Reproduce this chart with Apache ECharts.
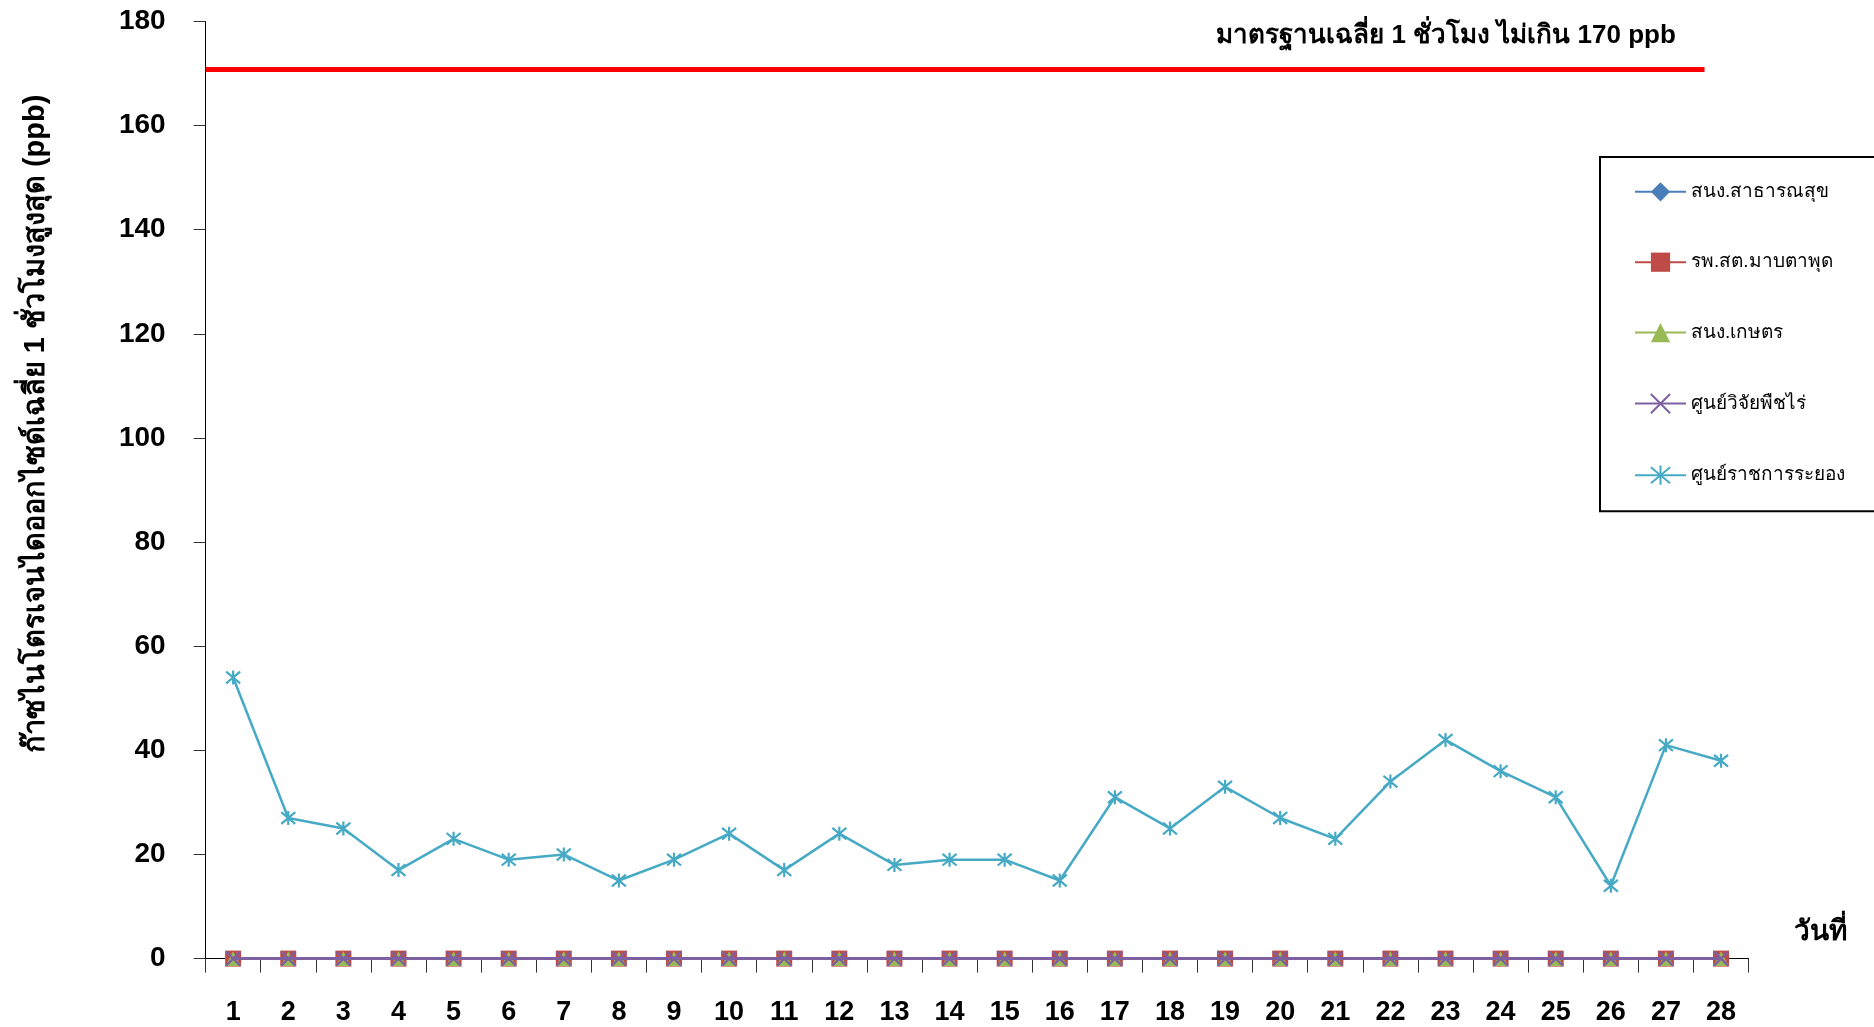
<!DOCTYPE html>
<html><head><meta charset="utf-8">
<script src="https://cdn.jsdelivr.net/npm/echarts@6/dist/echarts.min.js"></script>
<style>html,body{margin:0;padding:0;background:#fff}#c{width:1874px;height:1027px}</style>
</head><body><div id="c"></div>
<script>
const days = ['1','2','3','4','5','6','7','8','9','10','11','12','13','14','15','16','17','18','19','20','21','22','23','24','25','26','27','28'];
const seriesNames = ['สนง.สาธารณสุข','รพ.สต.มาบตาพุด','สนง.เกษตร','ศูนย์วิจัยพืชไร่','ศูนย์ราชการระยอง'];
const healthOffice = [0,0,0,0,0,0,0,0,0,0,0,0,0,0,0,0,0,0,0,0,0,0,0,0,0,0,0,0];
const mabtaphut = [0,0,0,0,0,0,0,0,0,0,0,0,0,0,0,0,0,0,0,0,0,0,0,0,0,0,0,0];
const agriOffice = [0,0,0,0,0,0,0,0,0,0,0,0,0,0,0,0,0,0,0,0,0,0,0,0,0,0,0,0];
const fieldCropCenter = [0,0,0,0,0,0,0,0,0,0,0,0,0,0,0,0,0,0,0,0,0,0,0,0,0,0,0,0];
const rayongGovCenter = [54,27,25,17,23,19,20,15,19,24,17,24,18,19,19,15,31,25,33,27,23,34,42,36,31,14,41,38];
const standardValue = 170.8;
const standardSpan = [0, 27.2];
const yTicks = {min:0, max:180, interval:20};
const standardLabel = 'มาตรฐานเฉลี่ย 1 ชั่วโมง ไม่เกิน 170 ppb';
const yTitle = 'ก๊าซไนโตรเจนไดออกไซด์เฉลี่ย 1 ชั่วโมงสูงสุด (ppb)';
const xTitle = 'วันที่';

const FONT = '"Liberation Sans", Arial, sans-serif';
const colors = ['#4A7EBB','#BE4B48','#98B954','#7D60A0','#46AAC5'];
const xPath = 'path://M0,0L10,10M10,0L0,10';
const starPath = 'path://M0,0L10,10M10,0L0,10M5,-1L5,11';
const symbols = ['diamond','rect','triangle',xPath,starPath];
const symSizes = [16,16,15,14,14];
const datas = [healthOffice, mabtaphut, agriOffice, fieldCropCenter, rayongGovCenter];

const series = datas.map((d,i)=>({
  name: seriesNames[i], type:'line', data:d,
  symbol: symbols[i], symbolSize: symSizes[i], showAllSymbol:true,
  lineStyle:{color:colors[i], width: i===4?2.5:3},
  itemStyle:{color: (i>=3)?'rgba(0,0,0,0)':colors[i], borderColor: colors[i], borderWidth: (i>=3)?2.2:0},
  emphasis:{disabled:true}, animation:false, z: 2+i
}));
series.push({
  name:'standard', type:'line', xAxisIndex:1,
  data: standardSpan.map(x=>[x, standardValue]),
  symbol:'none', lineStyle:{color:'#FF0000', width:5}, silent:true, animation:false, z:1
});

const chart = echarts.init(document.getElementById('c'));
chart.setOption({
  backgroundColor:'#fff',
  animation:false,
  grid:{left:205.6, right:125.4, top:21.5, bottom:68.4, containLabel:false},
  legend:{
    data: seriesNames, orient:'vertical', left:1600, top:157,
    itemWidth:51, itemHeight:24, itemGap:50.4,
    padding:[24.8,120,25.5,34],
    borderColor:'#000', borderWidth:2,
    textStyle:{fontFamily:FONT, fontSize:19, color:'#000', lineHeight:20},
    selectedMode:false
  },
  xAxis:[{
    type:'category', data:days, boundaryGap:true,
    axisLine:{lineStyle:{color:'#000', width:1}},
    axisTick:{show:true, length:14, alignWithLabel:false, lineStyle:{color:'#333'}},
    axisLabel:{color:'#000', fontFamily:FONT, fontWeight:'bold', fontSize:27, margin:40},
    splitLine:{show:false}
  },{
    type:'value', min:0, max:days.length, show:false
  }],
  yAxis:{
    type:'value', min:yTicks.min, max:yTicks.max, interval:yTicks.interval,
    axisLine:{show:true, lineStyle:{color:'#000', width:1}},
    axisTick:{show:true, length:12, lineStyle:{color:'#333'}},
    axisLabel:{color:'#000', fontFamily:FONT, fontWeight:'bold', fontSize:28, margin:40},
    splitLine:{show:false}
  },
  graphic:[
    {type:'text', x:36, y:424, rotation:Math.PI/2, style:{text:yTitle, font:'bold 29px '+FONT, fill:'#000', textAlign:'center', textVerticalAlign:'middle'}},
    {type:'text', x:1446, y:36, style:{text:standardLabel, font:'bold 26px '+FONT, fill:'#000', textAlign:'center', textVerticalAlign:'middle'}},
    {type:'text', x:1820, y:932, style:{text:xTitle, font:'bold 28px '+FONT, fill:'#000', textAlign:'center', textVerticalAlign:'middle'}}
  ],
  series: series
});
</script></body></html>
